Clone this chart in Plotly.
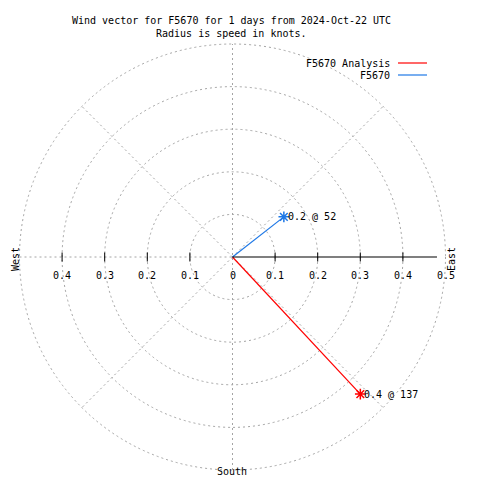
import math
import plotly.graph_objects as go

# ---- data ----
series_names = ["F5670 Analysis", "F5670"]
speeds = [0.44, 0.153]          # knots
directions = [137, 52]          # degrees from north (clockwise)
series_colors = ["#ff0000", "#1e78e6"]

ring_radii = [0.1, 0.2, 0.3, 0.4, 0.5]
tick_values = [-0.4, -0.3, -0.2, -0.1, 0.0, 0.1, 0.2, 0.3, 0.4, 0.5]
tick_labels = ["0.4", "0.3", "0.2", "0.1", "0", "0.1", "0.2", "0.3", "0.4", "0.5"]

title_lines = ["Wind vector for F5670 for 1 days from 2024-Oct-22 UTC",
               "Radius is speed in knots."]

FONT = "DejaVu Sans Mono"
W = H = 480
OFF = 8.0             # page body margin offset
PX = 426.0            # pixels per knot
CX, CY = 232.5 - OFF, 257.0 - OFF  # centre of the rose in figure pixels
GRID = "#a4a4a4"
DASH = "2px,3px"


def px(x):
    return (x - OFF) / W


def py(y):
    return 1 - (y - OFF) / H


fig = go.Figure()

# ---- grid shapes ----
shapes = []
for r in ring_radii:
    shapes.append(dict(type="circle", xref="x", yref="y", x0=-r, y0=-r, x1=r, y1=r,
                       line=dict(color=GRID, width=1, dash=DASH), layer="below"))
R = max(ring_radii)
shapes.append(dict(type="line", xref="x", yref="y", x0=-R, y0=0, x1=0, y1=0,
                   line=dict(color=GRID, width=1, dash=DASH), layer="below"))
shapes.append(dict(type="line", xref="x", yref="y", x0=0, y0=-R, x1=0, y1=R,
                   line=dict(color=GRID, width=1, dash=DASH), layer="below"))
d = R / math.sqrt(2)
for sx, sy in [(1, 1), (1, -1), (-1, 1), (-1, -1)]:
    shapes.append(dict(type="line", xref="x", yref="y", x0=0, y0=0, x1=sx * d, y1=sy * d,
                       line=dict(color=GRID, width=1, dash=DASH), layer="below"))
# solid east axis
shapes.append(dict(type="line", xref="x", yref="y", x0=0, y0=0, x1=0.48, y1=0,
                   line=dict(color="black", width=1.2)))
# tick marks
tk = 4.5 / PX
for v in tick_values:
    if v == 0 or v >= 0.5:
        continue
    shapes.append(dict(type="line", xref="x", yref="y", x0=v, y0=-tk, x1=v, y1=tk,
                       line=dict(color="black", width=1)))

annotations = []
for v, lab in zip(tick_values, tick_labels):
    annotations.append(dict(x=v, y=0, xref="x", yref="y", text=lab, showarrow=False,
                            yshift=-18, xanchor="center", yanchor="middle",
                            font=dict(family=FONT, size=10, color="black")))

# ---- vectors ----
for name, s, dd, col in zip(series_names, speeds, directions, series_colors):
    ex = s * math.sin(math.radians(dd))
    ey = s * math.cos(math.radians(dd))
    fig.add_trace(go.Scatter(x=[0, ex], y=[0, ey], mode="lines", name=name,
                             line=dict(color=col, width=1.2), showlegend=False,
                             hoverinfo="skip"))
    fig.add_trace(go.Scatter(x=[ex], y=[ey], mode="markers", showlegend=False,
                             marker=dict(symbol="asterisk-open", size=9, color=col,
                                         line=dict(color=col, width=1.5)),
                             hoverinfo="skip"))
    annotations.append(dict(x=ex, y=ey, xref="x", yref="y",
                            text=f"{s:.1f} @ {dd}", showarrow=False,
                            xanchor="left", yanchor="middle", xshift=2,
                            font=dict(family=FONT, size=10, color="black")))

# ---- compass labels ----
annotations.append(dict(x=px(15), y=py(259), xref="paper", yref="paper", text="West",
                        textangle=-90, showarrow=False, xanchor="center", yanchor="middle",
                        font=dict(family=FONT, size=10, color="black")))
annotations.append(dict(x=px(451), y=py(259), xref="paper", yref="paper", text="East",
                        textangle=-90, showarrow=False, xanchor="center", yanchor="middle",
                        font=dict(family=FONT, size=10, color="black")))
annotations.append(dict(x=px(232), y=py(471), xref="paper", yref="paper", text="South",
                        showarrow=False, xanchor="center", yanchor="middle",
                        font=dict(family=FONT, size=10, color="black")))

# ---- title ----
for i, t in enumerate(title_lines):
    annotations.append(dict(x=px(231.5), y=py(20 + 13 * i), xref="paper", yref="paper",
                            text=t, showarrow=False, xanchor="center", yanchor="middle",
                            font=dict(family=FONT, size=10, color="black")))

# ---- legend (text left of line) ----
for i, (name, col) in enumerate(zip(series_names, series_colors)):
    yy = py(63 + 12 * i)
    annotations.append(dict(x=px(392), y=yy, xref="paper", yref="paper", text=name,
                            showarrow=False, xanchor="right", yanchor="middle",
                            font=dict(family=FONT, size=10, color="black")))
    shapes.append(dict(type="line", xref="paper", yref="paper", x0=px(398), x1=px(427),
                       y0=yy, y1=yy, line=dict(color=col, width=1.2)))

fig.update_layout(
    width=W, height=H,
    margin=dict(l=0, r=0, t=0, b=0),
    paper_bgcolor="white", plot_bgcolor="white",
    shapes=shapes, annotations=annotations,
    showlegend=False,
    xaxis=dict(range=[-CX / PX, (W - CX) / PX], visible=False, fixedrange=True),
    yaxis=dict(range=[-(H - CY) / PX, CY / PX], visible=False, fixedrange=True),
)

fig.write_html("out.html")
